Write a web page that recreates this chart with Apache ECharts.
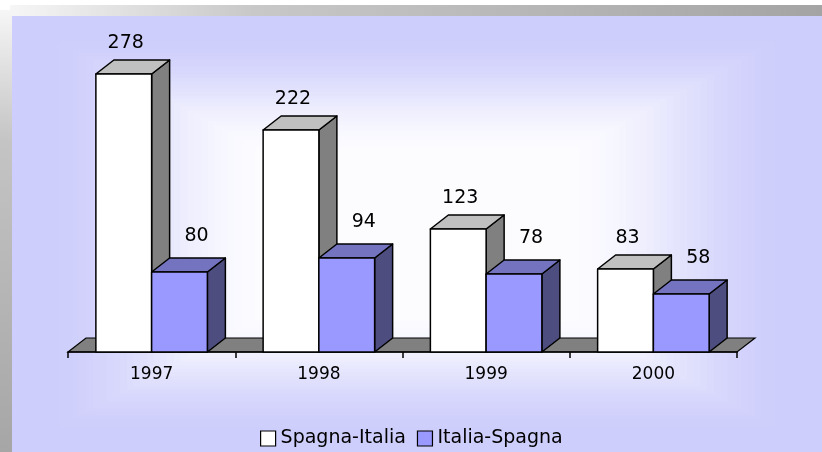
<!DOCTYPE html>
<html lang="it">
<head>
<meta charset="UTF-8">
<title>Spagna-Italia / Italia-Spagna</title>
<script src="https://cdn.jsdelivr.net/npm/echarts@6/dist/echarts.min.js"></script>
</head>
<body style="margin:0">
<div id="main" style="width:822px;height:452px"></div>
<script>
var anni = ['1997', '1998', '1999', '2000'];
var spagnaItalia = [278, 222, 123, 83];
var italiaSpagna = [80, 94, 78, 58];
var nomiSerie = ['Spagna-Italia', 'Italia-Spagna'];

var chart = echarts.init(document.getElementById('main'));

// profondita' finta 3D
var DX = 18, DY = -14;
var FONT = 'DejaVu Sans';

function mix(a, b, t) {
    var r = Math.round(a[0] + (b[0] - a[0]) * t);
    var g = Math.round(a[1] + (b[1] - a[1]) * t);
    var bl = Math.round(a[2] + (b[2] - a[2]) * t);
    return 'rgb(' + r + ',' + g + ',' + bl + ')';
}

// sfondo: riquadri concentrici lavanda -> bianco
var sfondo = [
    {type: 'rect', z: -100, silent: true, shape: {x: 0, y: 0, width: 822, height: 452}, style: {fill: '#fff'}},
    {type: 'rect', z: -99, silent: true, shape: {x: 10, y: 5, width: 812, height: 11},
        style: {fill: new echarts.graphic.LinearGradient(0, 0, 1, 0, [{offset: 0, color: '#f6f6f6'}, {offset: 0.3, color: '#c8c8c8'}, {offset: 1, color: '#a4a4a4'}])}},
    {type: 'rect', z: -99, silent: true, shape: {x: 0, y: 10, width: 12, height: 442},
        style: {fill: new echarts.graphic.LinearGradient(0, 0, 0, 1, [{offset: 0, color: '#f6f6f6'}, {offset: 0.3, color: '#c4c4c4'}, {offset: 1, color: '#a6a6a6'}])}}
];
var px = 12, py = 16, pw = 810, ph = 436, N = 60;
for (var i = 0; i < N; i++) {
    var t = i / N;
    var f = Math.max(0, Math.min(1, (t - 0.08) / 0.55));
    f = f * f * (3 - 2 * f);
    sfondo.push({
        type: 'rect', z: -98 + i * 0.01, silent: true,
        shape: {x: px + t * pw / 2, y: py + t * ph / 2, width: pw * (1 - t), height: ph * (1 - t)},
        style: {fill: mix([206, 206, 252], [252, 252, 255], f)}
    });
}

function bar3d(idx, front, top, side, ldx, ldy) {
    return function (params, api) {
        var cat = api.value(0);
        var val = api.value(1);
        var base = api.coord([cat, 0]);
        var head = api.coord([cat, val]);
        var w = api.size([1, 0])[0] / 3;
        var x0 = idx === 0 ? base[0] - w : base[0];
        var x1 = x0 + w;
        var yb = base[1], yt = head[1];
        var ls = {stroke: '#000', lineWidth: 1.5, lineJoin: 'round'};
        return {
            type: 'group',
            children: [
                {type: 'polygon', shape: {points: [[x1, yb], [x1 + DX, yb + DY], [x1 + DX, yt + DY], [x1, yt]]},
                    style: Object.assign({fill: side}, ls)},
                {type: 'polygon', shape: {points: [[x0, yt], [x0 + DX, yt + DY], [x1 + DX, yt + DY], [x1, yt]]},
                    style: Object.assign({fill: top}, ls)},
                {type: 'rect', shape: {x: x0, y: yt, width: w, height: yb - yt},
                    style: Object.assign({fill: front}, ls)},
                {type: 'text', x: (x0 + x1) / 2 + ldx, y: yt - ldy,
                    style: {text: String(val), fill: '#000', font: '19px ' + FONT, align: 'center', verticalAlign: 'middle'}}
            ]
        };
    };
}

function floor(params, api) {
    var c = params.coordSys;
    var yb = c.y + c.height;
    return {
        type: 'polygon',
        shape: {points: [[c.x, yb], [c.x + DX, yb + DY], [c.x + c.width + DX, yb + DY], [c.x + c.width, yb]]},
        style: {fill: '#808080', stroke: '#000', lineWidth: 1.2}
    };
}

chart.setOption({
    animation: false,
    textStyle: {fontFamily: FONT},
    graphic: {elements: sfondo},
    grid: {left: 68, right: 85, top: 52, bottom: 100},
    legend: {
        left: 255, top: 424,
        itemWidth: 15, itemHeight: 15, itemGap: 11,
        icon: 'rect',
        textStyle: {fontSize: 19, color: '#000', fontFamily: FONT},
        data: [
            {name: nomiSerie[0], itemStyle: {color: '#ffffff', borderColor: '#000', borderWidth: 1.2}},
            {name: nomiSerie[1], itemStyle: {color: '#9999ff', borderColor: '#000', borderWidth: 1.2}}
        ]
    },
    xAxis: {
        type: 'category',
        data: anni,
        z: 3,
        axisLine: {show: true, lineStyle: {color: '#000', width: 1.5}},
        axisTick: {show: true, alignWithLabel: false, interval: 0, length: 6, lineStyle: {color: '#000', width: 1.5}},
        axisLabel: {color: '#000', fontSize: 17, margin: 14}
    },
    yAxis: {type: 'value', min: 0, max: 300, show: false},
    series: [
        {type: 'custom', name: 'pavimento', z: 1, renderItem: floor, data: [[0, 0]], legendHoverLink: false},
        {type: 'custom', name: nomiSerie[0], z: 4, renderItem: bar3d(0, '#ffffff', '#c0c0c0', '#808080', 2, 31),
            itemStyle: {color: '#ffffff'},
            data: spagnaItalia.map(function (v, i) { return [i, v]; })},
        {type: 'custom', name: nomiSerie[1], z: 5, renderItem: bar3d(1, '#9999ff', '#7373c0', '#4d4d80', 17, 36),
            itemStyle: {color: '#9999ff'},
            data: italiaSpagna.map(function (v, i) { return [i, v]; })}
    ]
});
</script>
</body>
</html>
